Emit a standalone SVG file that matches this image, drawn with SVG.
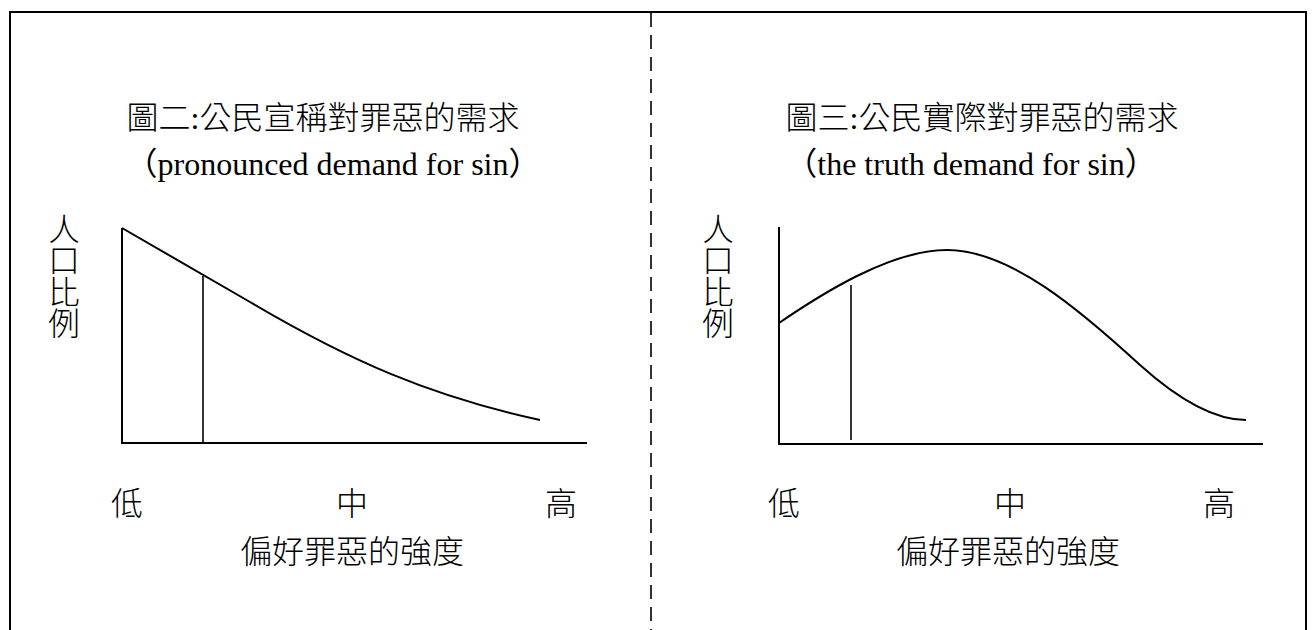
<svg xmlns="http://www.w3.org/2000/svg" width="1312" height="630" viewBox="0 0 1312 630">
<style>
.cjk{font-family:"Liberation Serif","Noto Sans CJK TC",serif;font-size:32px;font-weight:300;fill:#000}
.vl{font-family:"Noto Sans CJK TC",sans-serif;font-size:31.5px;font-weight:300;fill:#000;writing-mode:vertical-rl}
.lat{font-family:"Liberation Serif","Noto Sans CJK TC",serif;font-size:32px;fill:#000}
.ax{fill:none;stroke:#000;stroke-width:2}
.cv{fill:none;stroke:#000;stroke-width:2;stroke-linejoin:round;stroke-linecap:butt}
.mk{fill:none;stroke:#000;stroke-width:1.6}
</style>
<rect width="1312" height="630" fill="#fff"/>
<g id="frame">
<path class="ax" d="M10,630 V12 H1306 V630"/>
<line x1="651" y1="13" x2="651" y2="630" stroke="#000" stroke-width="1.6" stroke-dasharray="14 8"/>
</g>
<g id="panel-left">
<text class="cjk" x="323" y="129" text-anchor="middle">圖二:公民宣稱對罪惡的需求</text>
<text class="lat" x="333" y="175" text-anchor="middle">（pronounced demand for sin）</text>
<text class="vl" x="64" y="213">人口比例</text>
<path class="ax" d="M122,228 V443 H587"/>
<line class="mk" x1="203" y1="276" x2="203" y2="443"/>
<path class="cv" d="M122,228 L250,302 C350,361 430,396 540,420"/>
<text class="cjk" x="127" y="515" text-anchor="middle">低</text>
<text class="cjk" x="352" y="515" text-anchor="middle">中</text>
<text class="cjk" x="561" y="515" text-anchor="middle">高</text>
<text class="cjk" x="352" y="563" text-anchor="middle">偏好罪惡的強度</text>
</g>
<g id="panel-right">
<text class="cjk" x="982" y="129" text-anchor="middle">圖三:公民實際對罪惡的需求</text>
<text class="lat" x="971" y="175" text-anchor="middle">（the truth demand for sin）</text>
<text class="vl" x="718" y="213">人口比例</text>
<path class="ax" d="M779,227 V444 H1263"/>
<line class="mk" x1="851" y1="285" x2="851" y2="440"/>
<path class="cv" d="M779,323 C820,295 890,250 947,250 C1010,250 1080,310 1140,365 C1180,401 1215,420 1246,420"/>
<text class="cjk" x="784" y="515" text-anchor="middle">低</text>
<text class="cjk" x="1010" y="515" text-anchor="middle">中</text>
<text class="cjk" x="1219" y="515" text-anchor="middle">高</text>
<text class="cjk" x="1008" y="563" text-anchor="middle">偏好罪惡的強度</text>
</g>
</svg>
